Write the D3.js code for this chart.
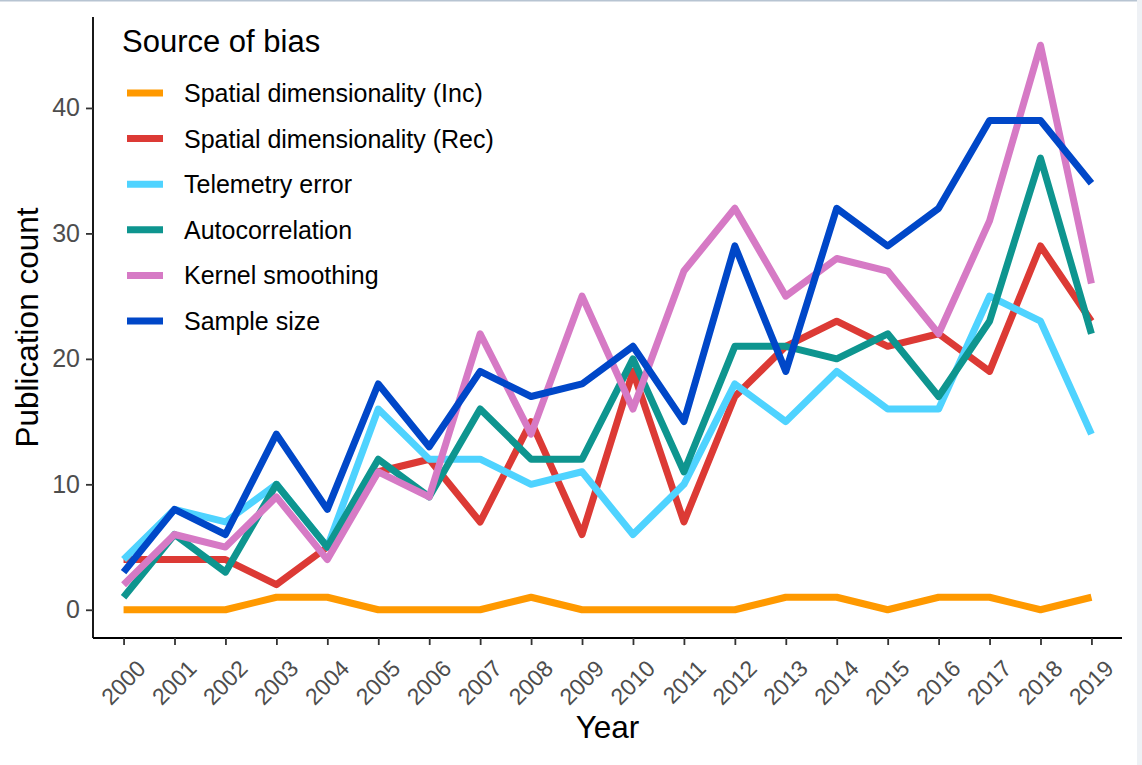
<!DOCTYPE html>
<html>
<head>
<meta charset="utf-8">
<script src="https://cdn.jsdelivr.net/npm/d3@7"></script>
<style>
  body { margin: 0; background: #ffffff; }
  text { font-family: "Liberation Sans", Arial, Helvetica, sans-serif; }
</style>
</head>
<body>
<svg id="chart"></svg>
<script>
// tick labels / categories
const years = [2000, 2001, 2002, 2003, 2004, 2005, 2006, 2007, 2008, 2009,
               2010, 2011, 2012, 2013, 2014, 2015, 2016, 2017, 2018, 2019];
const yTicks = [0, 10, 20, 30, 40];

// publication counts per source of bias
const spatialInc = [0, 0, 0, 1, 1, 0, 0, 0, 1, 0, 0, 0, 0, 1, 1, 0, 1, 1, 0, 1];
const spatialRec = [4, 4, 4, 2, 5, 11, 12, 7, 15, 6, 19, 7, 17, 21, 23, 21, 22, 19, 29, 23];
const telemetry = [4, 8, 7, 10, 5, 16, 12, 12, 10, 11, 6, 10, 18, 15, 19, 16, 16, 25, 23, 14];
const autocorrelation = [1, 6, 3, 10, 5, 12, 9, 16, 12, 12, 20, 11, 21, 21, 20, 22, 17, 23, 36, 22];
const kernelSmoothing = [2, 6, 5, 9, 4, 11, 9, 22, 14, 25, 16, 27, 32, 25, 28, 27, 22, 31, 45, 26];
const sampleSize = [3, 8, 6, 14, 8, 18, 13, 19, 17, 18, 21, 15, 29, 19, 32, 29, 32, 39, 39, 34];

const series = [
  { label: 'Spatial dimensionality (Inc)', color: '#FF9900', values: spatialInc },
  { label: 'Spatial dimensionality (Rec)', color: '#DC3A35', values: spatialRec },
  { label: 'Telemetry error', color: '#4FD3FF', values: telemetry },
  { label: 'Autocorrelation', color: '#0E958F', values: autocorrelation },
  { label: 'Kernel smoothing', color: '#D67AC5', values: kernelSmoothing },
  { label: 'Sample size', color: '#0047C8', values: sampleSize }
];

drawChart();

function drawChart() {
  const width = 1142;
  const height = 765;
  const left = 93, right = 1122, top = 17, bottom = 638;

  const svg = d3.select('#chart')
    .attr('width', width)
    .attr('height', height);

  // page frame
  svg.append('rect').attr('width', width).attr('height', height).attr('fill', '#ffffff');
  svg.append('rect').attr('x', 0).attr('y', 0).attr('width', width).attr('height', 1.5).attr('fill', '#b7c4d2');
  svg.append('rect').attr('x', 1137).attr('y', 0).attr('width', 5).attr('height', height).attr('fill', '#eef1f5');

  // discrete-looking x scale with ggplot padding of 0.6 step
  const xScale = d3.scaleLinear()
    .domain([years[0] - 0.6, years[years.length - 1] + 0.6])
    .range([left, right]);

  const yScale = d3.scaleLinear()
    .domain([-2.25, 47.25])
    .range([bottom, top]);

  // lines
  const line = d3.line()
    .x((d, i) => xScale(years[i]))
    .y(d => yScale(d));

  series.forEach(s => {
    svg.append('path')
      .datum(s.values)
      .attr('d', line)
      .attr('fill', 'none')
      .attr('stroke', s.color)
      .attr('stroke-width', 7)
      .attr('stroke-linejoin', 'round')
      .attr('stroke-linecap', 'butt');
  });

  // y axis
  const yAxis = d3.axisLeft(yScale).tickValues(yTicks).tickSize(7).tickPadding(6);
  const gy = svg.append('g')
    .attr('transform', `translate(${left}, 0)`)
    .call(yAxis);
  gy.select('.domain').attr('d', `M0,${top}V${bottom}`).attr('stroke', '#000').attr('stroke-width', 1.8);
  gy.selectAll('.tick line').attr('stroke', '#333').attr('stroke-width', 1.8);
  gy.selectAll('.tick text')
    .attr('font-size', 25)
    .attr('fill', '#4d4d4d')
    .attr('font-family', '"Liberation Sans", Arial, sans-serif');

  // x axis
  const xAxis = d3.axisBottom(xScale).tickValues(years).tickSize(7).tickFormat(d3.format('d'));
  const gx = svg.append('g')
    .attr('transform', `translate(0, ${bottom})`)
    .call(xAxis);
  gx.select('.domain').attr('d', `M${left},0H${right}`).attr('stroke', '#000').attr('stroke-width', 1.8);
  gx.selectAll('.tick line').attr('stroke', '#333').attr('stroke-width', 1.8);
  gx.selectAll('.tick text')
    .attr('font-size', 23)
    .attr('fill', '#4d4d4d')
    .attr('font-family', '"Liberation Sans", Arial, sans-serif')
    .attr('text-anchor', 'end')
    .attr('y', 0)
    .attr('dy', 0)
    .attr('transform', 'translate(23, 32) rotate(-45)');

  // axis titles
  svg.append('text')
    .attr('x', (left + right) / 2)
    .attr('y', 738)
    .attr('text-anchor', 'middle')
    .attr('font-size', 31.5)
    .attr('fill', '#000')
    .text('Year');

  svg.append('text')
    .attr('transform', `translate(38, ${(top + bottom) / 2}) rotate(-90)`)
    .attr('text-anchor', 'middle')
    .attr('font-size', 31.5)
    .attr('fill', '#000')
    .text('Publication count');

  // legend
  const legendGroup = svg.append('g')
    .attr('class', 'legend')
    .attr('transform', 'translate(122, 0)');

  legendGroup.append('text')
    .attr('x', 0)
    .attr('y', 52)
    .attr('font-size', 31)
    .attr('fill', '#000')
    .text('Source of bias');

  const legendEntries = legendGroup.selectAll('.legend-entry')
    .data(series)
    .enter()
    .append('g')
    .attr('class', 'legend-entry')
    .attr('transform', (d, i) => `translate(0, ${93 + i * 45.6})`);

  legendEntries.append('line')
    .attr('x1', 5)
    .attr('x2', 41)
    .attr('y1', 0)
    .attr('y2', 0)
    .attr('stroke', d => d.color)
    .attr('stroke-width', 7);

  legendEntries.append('text')
    .attr('x', 62)
    .attr('y', 0)
    .attr('dy', '0.36em')
    .attr('font-size', 25)
    .attr('fill', '#000')
    .text(d => d.label);
}
</script>
</body>
</html>
